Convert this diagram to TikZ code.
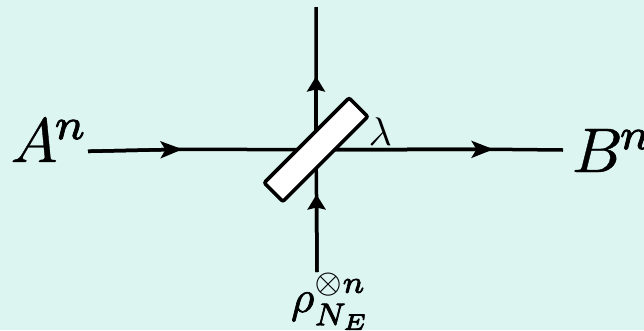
\documentclass[tikz,border=0pt]{standalone}
\usepackage{amsmath}
\usetikzlibrary{arrows.meta,backgrounds,calc}
\definecolor{bgteal}{HTML}{DCF5F1}
\newcommand{\thk}[2]{\special{pdf:code q 2 Tr #1 w}#2\special{pdf:code Q}}
\tikzset{
  wire/.style={line width=3.5pt,black},
  tipH/.style={wire,-{Stealth[length=22pt,width=17pt,inset=5pt]},shorten >=-0.5pt},
  tipV/.style={wire,-{Stealth[length=15pt,width=18pt,inset=2pt]},shorten >=-0.5pt},
  lab/.style={inner sep=0pt,outer sep=0pt,anchor=base west},
  splitter/.style={draw=black,fill=white,line width=3.6pt,rounded corners=2pt,rotate=45,
     minimum width=120pt,minimum height=26.4pt,inner sep=0pt,outer sep=0pt}
}
\begin{document}
\begin{tikzpicture}[x=1pt,y=-1pt]
\useasboundingbox (0,0) rectangle (644,330);
\node[lab,scale=6.3] (A) at (10.5,162) {$\thk{0.06}{A}\mkern-1mu^{\thk{0.13}{n}}$};
\node[lab,scale=6.3] (B) at (572,172) {$\thk{0.06}{B}\mkern-1mu^{\thk{0.13}{n}}$};
\node[lab,scale=4.5] (rho) at (291,312) {$\thk{0.14}{\rho}_{\thk{0.16}{N_E}}^{\otimes\thk{0.16}{n}}$};
\node[lab,scale=4] (lam) at (368.5,145) {$\lambda$};
\node[splitter] (box) at (316,149.7) {};
\coordinate (inL) at (88,151.3);
\coordinate (outR) at (563,150);
\coordinate (top) at (316,7);
\coordinate (bot) at (317,272);
\coordinate (tipL) at (182,149.3);
\coordinate (tipR) at (493,149.3);
\coordinate (tipU) at (316,77);
\coordinate (tipD) at (316.5,195);
\begin{scope}[on background layer]
\fill[bgteal] (0,0) rectangle (644,330);
\draw[wire] (inL) -- (tipL) -- (box.center) -- (tipR) -- (outR);
\draw[wire] (bot) -- (tipD) -- (box.center) -- (tipU) -- (top);
\draw[tipH] (inL) -- (tipL);
\draw[tipH] (box.center) -- (tipR);
\draw[tipV] (bot) -- (tipD);
\draw[tipV] (box.center) -- (tipU);
\end{scope}
\end{tikzpicture}
\end{document}
